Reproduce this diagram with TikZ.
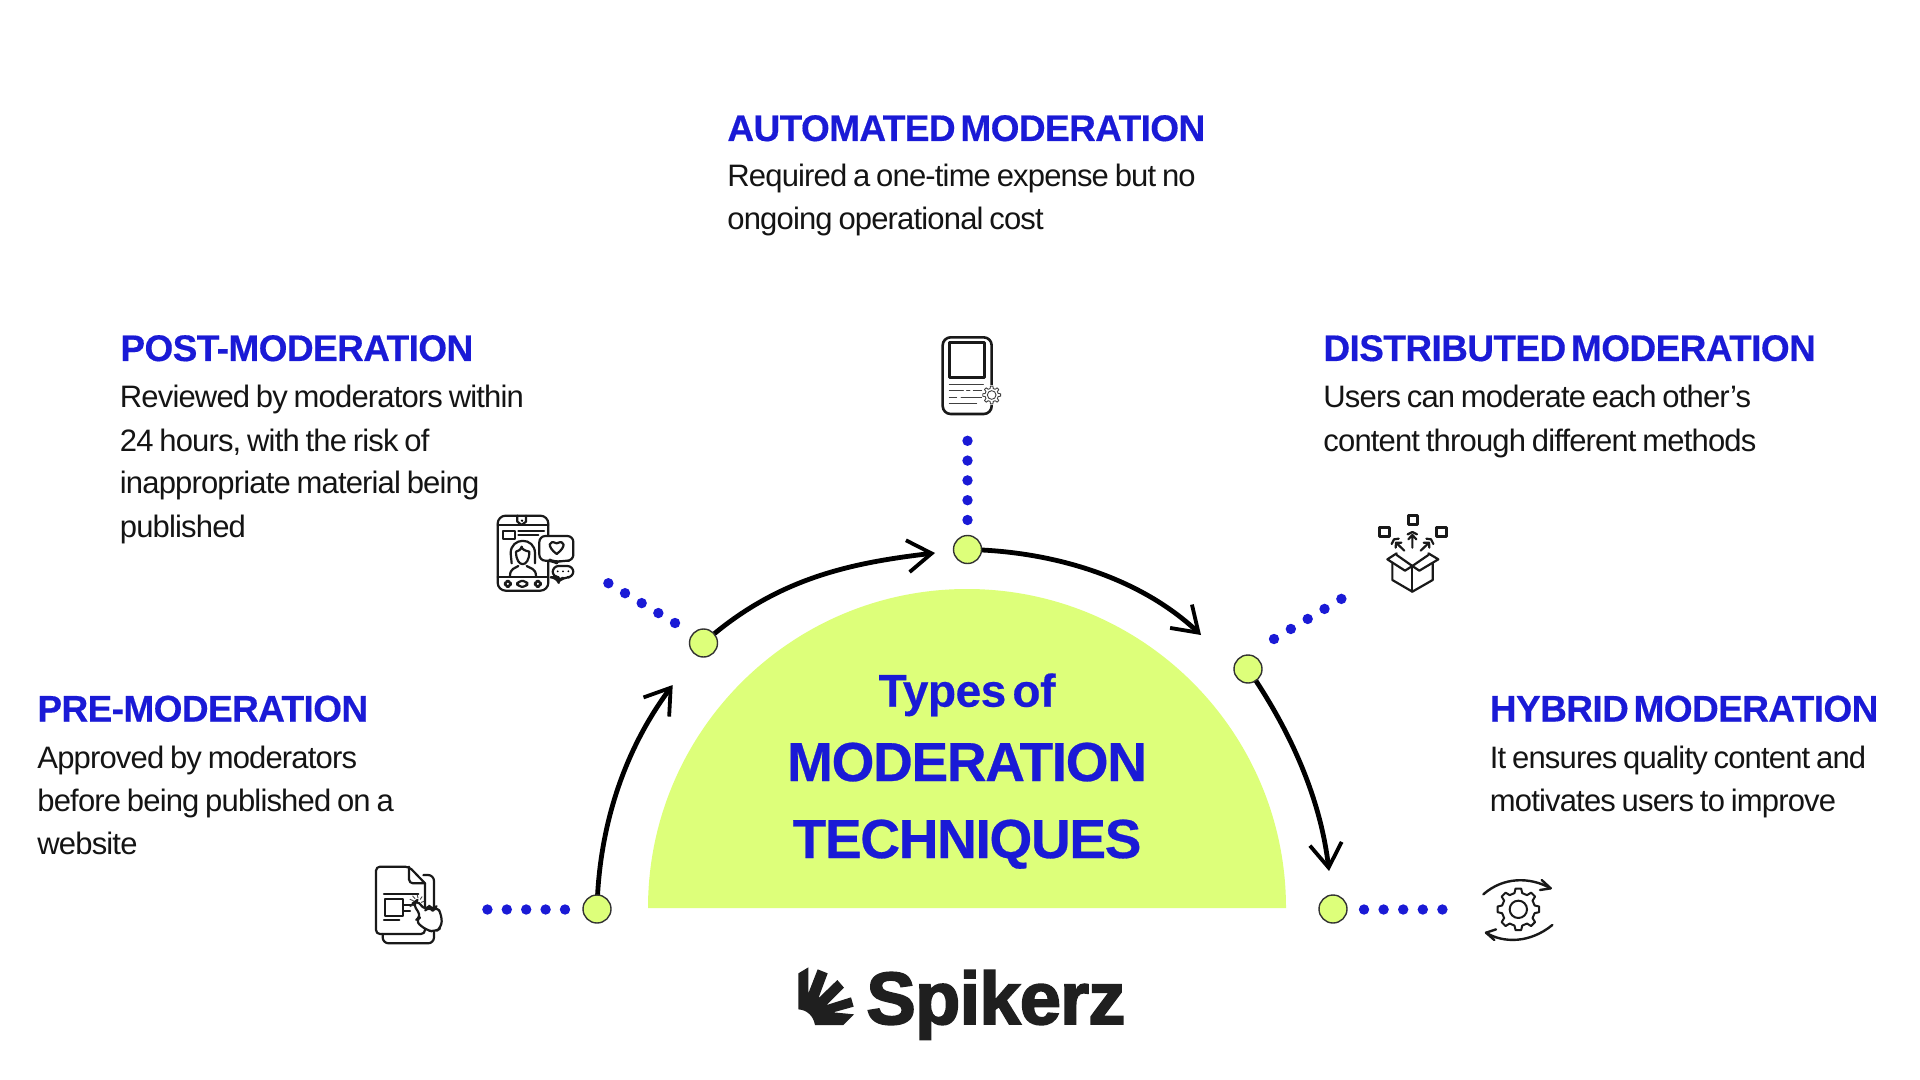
\documentclass[tikz,border=0pt]{standalone}
\usepackage{fontspec}
\usetikzlibrary{arrows.meta}
\setmainfont{Liberation Sans}
\newfontfamily\bodyf[LetterSpace=-2.7,WordSpace=0.75]{Liberation Sans}
\newfontfamily\headf[LetterSpace=-1.6,WordSpace=0.5,FakeBold=0.35]{Liberation Sans Bold}
\newfontfamily\midf[LetterSpace=-2.4,WordSpace=0.5,FakeBold=0.5]{Liberation Sans Bold}
\newfontfamily\typef[LetterSpace=-1,WordSpace=0.5,FakeBold=0.4]{Liberation Sans Bold}
\newfontfamily\logof[LetterSpace=-1,FakeBold=2.5]{Liberation Sans Bold}
\definecolor{ourblue}{HTML}{1A1AD6}
\definecolor{ourlime}{HTML}{DDFF7A}
\definecolor{logoink}{HTML}{1F1F1F}
\newcommand{\bodylines}[1]{\parbox[t]{280pt}{\fontsize{15.5}{21.5}\bodyf\raggedright #1}}
\tikzset{
  heading/.style={anchor=base west,inner sep=0pt,text=ourblue,font=\fontsize{18.5}{22}\headf},
  bodytext/.style={anchor=base west,inner sep=0pt,text=black!92},
  centre/.style={anchor=base,inner sep=0pt,text=ourblue},
  stop/.style={circle,draw=black!80,line width=0.7pt,fill=ourlime,minimum size=14pt,inner sep=0pt},
  dotline/.style={draw=ourblue,line width=5.2pt,line cap=round,dash pattern=on 0pt off #1},
  arc line/.style={draw=black,line width=2.4pt,-{Straight Barb[length=12pt,width=16pt,line width=1.9pt]}},
  icon/.style={draw=black!90,line width=1.1pt,line join=round,line cap=round},
  thin icon/.style={draw=black!75,line width=0.45pt,line cap=round},
}
% #1 draw options, #2 teeth, #3 outer radius, #4 inner radius
\newcommand{\cogwheel}[4]{%
  \pgfmathsetmacro{\cogstep}{360/#2}%
  \pgfmathsetmacro{\coga}{\cogstep*0.17}%
  \pgfmathsetmacro{\cogb}{\cogstep*0.30}%
  \draw[#1] (90-\cogb:#4)
    \foreach \k [evaluate=\k as \ang using {90+(\k-1)*\cogstep}] in {1,...,#2}{
      -- (\ang-\coga:#3) -- (\ang+\coga:#3) -- (\ang+\cogb:#4) -- (\ang+\cogstep-\cogb:#4)
    } -- cycle;
}
\begin{document}
\begin{tikzpicture}[x=0.5pt,y=-0.5pt]
\useasboundingbox (0,0) rectangle (1920,1080);
\fill[white] (0,0) rectangle (1920,1080);

% dome
\fill[ourlime] (648,908) arc[start angle=180,end angle=360,radius=319] -- cycle;

% free ends of the arrows
\coordinate (tipA) at (672.7,685);
\coordinate (tipB) at (935,553);
\coordinate (tipC) at (1201,635);
\coordinate (tipD) at (1329,871);

% stop centres
\coordinate (preC) at (597,909);
\coordinate (postC) at (703.5,643);
\coordinate (autoC) at (967.5,549.5);
\coordinate (distC) at (1248,669);
\coordinate (hybC) at (1333,909);

\draw[arc line] (preC) .. controls (599,825) and (625,749) .. (tipA);
\draw[arc line] (postC) .. controls (775,579) and (849,563) .. (tipB);
\draw[arc line] (autoC) .. controls (1050,551) and (1138,576) .. (tipC);
\draw[arc line] (distC) .. controls (1288,727) and (1320,795) .. (tipD);

\node[stop] (pre)  at (preC) {};
\node[stop] (post) at (postC) {};
\node[stop] (auto) at (autoC) {};
\node[stop] (dist) at (distC) {};
\node[stop] (hyb)  at (hybC) {};

% dotted leaders
\coordinate (preA) at (565,909.5); \coordinate (preB) at (487,909.5);
\coordinate (postA) at (675,623); \coordinate (postB) at (608,583);
\coordinate (autoA) at (967.5,520); \coordinate (autoB) at (967.5,440);
\coordinate (distA) at (1274,639); \coordinate (distB) at (1342,598.5);
\coordinate (hybA) at (1364,909.5); \coordinate (hybB) at (1443,909.5);
\draw[dotline=9.7pt] (preA) -- (preB);
\draw[dotline=9.7pt] (postA) -- (postB);
\draw[dotline=9.9pt] (autoA) -- (autoB);
\draw[dotline=9.8pt] (distA) -- (distB);
\draw[dotline=9.8pt] (hybA) -- (hybB);

% centre title
\node[centre,font=\fontsize{23}{26}\typef] (t1) at (967,706.7) {Types of};
\node[centre,font=\fontsize{27.5}{31}\midf] (t2) at (967,781) {MODERATION};
\node[centre,font=\fontsize{27.5}{31}\midf] (t3) at (967,858) {TECHNIQUES};

% labels
\node[heading] (h1) at (727,141) {AUTOMATED MODERATION};
\node[bodytext] (b1) at (727,187) {\bodylines{Required a one-time expense but no\\ongoing operational cost}};
\node[heading] (h2) at (120,361) {POST-MODERATION};
\node[bodytext] (b2) at (119.5,408) {\bodylines{Reviewed by moderators within\\24 hours, with the risk of\\inappropriate material being\\published}};
\node[heading] (h3) at (1323,361) {DISTRIBUTED MODERATION};
\node[bodytext] (b3) at (1323,408) {\bodylines{Users can moderate each other’s\\content through different methods}};
\node[heading] (h4) at (37,721.5) {PRE-MODERATION};
\node[bodytext] (b4) at (37,768.5) {\bodylines{Approved by moderators\\before being published on a\\website}};
\node[heading] (h5) at (1489.5,721.5) {HYBRID MODERATION};
\node[bodytext] (b5) at (1489.5,768.5) {\bodylines{It ensures quality content and\\motivates users to improve}};

% logo
\begin{scope}[shift={(780,950)},x=0.16667pt,y=-0.16667pt]
\fill[logoink] (55,70) -- (85,52) -- (85,130) -- (113,58) -- (143,70) -- (115,145) -- (172,90) -- (192,113) -- (140,165) -- (213,142) -- (221,170) -- (160,187) -- (222,193) -- (190,225) -- (105,225) .. controls (100,198) and (82,180) .. (55,178) -- cycle;
\end{scope}
\node[anchor=base west,inner sep=0pt,text=logoink,font=\fontsize{37}{40}\logof] (logo) at (866,1024) {Spikerz};

% icon: pre-moderation
\begin{scope}[shift={(360,850)},x=0.16667pt,y=-0.16667pt]
\draw[icon,rounded corners=3pt] (190,75) -- (222,75) -- (222,280) -- (68,280) -- (68,252);
\draw[icon,rounded corners=2pt] (195,100) -- (195,252) -- (48,252) -- (48,50) -- (147,50) -- (195,100);
\draw[icon,rounded corners=2pt] (147,50) -- (147,100) -- (195,100);
\draw[icon] (72,132) -- (175,132) (130,165) -- (160,165) (130,182) -- (150,182) (72,210) -- (118,210);
\draw[icon] (75,147) rectangle (130,197);
\draw[icon,fill=white,rounded corners=3pt] (165,212) -- (184,200) -- (158,160) -- (172,150) -- (195,182) -- (208,168) -- (218,182) -- (230,168) -- (245,195) -- (245,232) -- (225,246) -- (198,240) -- cycle;
\draw[thin icon] (150,148) -- (160,152) (158,138) -- (165,146) (172,135) -- (174,144) (186,140) -- (181,148) (192,154) -- (184,157) (150,170) -- (158,166);
\end{scope}

% icon: post-moderation
\begin{scope}[shift={(480,500)},x=0.16667pt,y=-0.16667pt]
\draw[icon,rounded corners=4pt] (53,47) rectangle (205,272);
\draw[icon] (53,75) -- (205,75) (53,230) -- (205,230);
\draw[icon] (112,47) -- (112,65) -- (125,75) -- (138,65) -- (138,47);
\fill[black] (126,62) circle[radius=4];
\draw[icon] (68,93) rectangle (105,118);
\draw[icon] (115,93) -- (192,93) (115,105) -- (175,105);
\draw[icon,rounded corners=2pt] (75,243) rectangle (92,260);
\draw[icon,rounded corners=2pt] (112,243) rectangle (142,260);
\draw[icon,rounded corners=2pt] (165,243) rectangle (182,260);
\draw[icon] (95,190) -- (92,160) .. controls (92,110) and (165,110) .. (165,160) -- (165,190);
\draw[icon] (108,155) .. controls (108,205) and (148,205) .. (148,155) .. controls (135,152) and (125,148) .. (125,140) .. controls (122,150) and (115,153) .. (108,155);
\draw[icon] (90,228) .. controls (90,205) and (105,205) .. (115,198) (140,198) .. controls (150,205) and (168,205) .. (168,228);
\draw[icon,fill=white,rounded corners=3pt] (178,108) -- (280,108) -- (280,182) -- (250,182) -- (225,187) -- (215,182) -- (178,182) -- cycle;
\draw[icon] (230,162) .. controls (200,140) and (205,118) .. (230,130) .. controls (255,118) and (260,140) .. (230,162) -- cycle;
\draw[icon,fill=white,rounded corners=3pt] (218,198) -- (280,198) -- (280,232) -- (250,232) -- (235,245) -- (230,232) -- (218,232) -- cycle;
\fill[black] (233,214) circle[radius=3] (249,214) circle[radius=3] (265,214) circle[radius=3];
\end{scope}

% icon: automated
\begin{scope}[shift={(900,310)},x=0.16667pt,y=-0.16667pt]
\draw[icon,line width=1.3pt,rounded corners=4pt] (128,82) rectangle (275,312);
\draw[icon,line width=1.4pt,line cap=butt] (148,98) rectangle (253,203);
\draw[thin icon] (148,222) -- (250,222) (148,242) -- (190,242) (200,242) -- (210,242) (220,242) -- (245,242) (148,262) -- (170,262) (183,262) -- (245,262) (148,280) -- (230,280);
\begin{scope}[shift={(275,255)},x=0.16667pt,y=0.16667pt]
\fill[white] (0,0) circle[radius=30];
\cogwheel{thin icon,fill=white,line join=round}{8}{27}{20}
\draw[thin icon] (0,0) circle[radius=13];
\end{scope}
\end{scope}

% icon: distributed
\begin{scope}[shift={(1360,500)},x=0.16667pt,y=-0.16667pt]
\draw[icon] (97,190) -- (97,240) -- (157,275) -- (218,240) -- (218,190);
\draw[icon] (157,198) -- (157,275);
\draw[icon] (110,160) -- (82,178) -- (135,212) -- (157,198) -- (110,165);
\draw[icon] (205,160) -- (235,178) -- (178,212) -- (157,198) -- (205,165);
\draw[icon] (157,143) -- (157,105) (145,118) -- (157,105) (169,118) -- (157,105) (143,103) -- (157,96) -- (171,103);
\draw[icon] (133,152) -- (108,128) (107,143) -- (108,128) -- (124,128) (95,132) -- (102,118) -- (116,116);
\draw[icon] (182,152) -- (207,128) (208,143) -- (207,128) -- (191,128) (220,132) -- (213,118) -- (199,116);
\draw[icon,line width=1.5pt,line cap=butt] (145,47) rectangle (171,72);
\draw[icon,line width=1.5pt,line cap=butt] (58,83) rectangle (88,110);
\draw[icon,line width=1.5pt,line cap=butt] (228,83) rectangle (258,110);
\end{scope}

% icon: hybrid
\begin{scope}[shift={(1460,860)},x=0.16667pt,y=-0.16667pt]
\draw[icon,line width=1.2pt] (70,103) .. controls (130,50) and (210,50) .. (272,85);
\draw[icon,line width=1.2pt] (245,60) -- (272,85) -- (240,90);
\draw[icon,line width=1.2pt] (277,195) .. controls (210,250) and (130,250) .. (78,218);
\draw[icon,line width=1.2pt] (108,208) -- (78,218) -- (103,240);
\begin{scope}[shift={(175,148)},x=0.16667pt,y=0.16667pt]
\cogwheel{icon,line width=1pt}{8}{63}{50}
\draw[icon,line width=1pt] (0,0) circle[radius=26];
\end{scope}
\end{scope}
\end{tikzpicture}
\end{document}
